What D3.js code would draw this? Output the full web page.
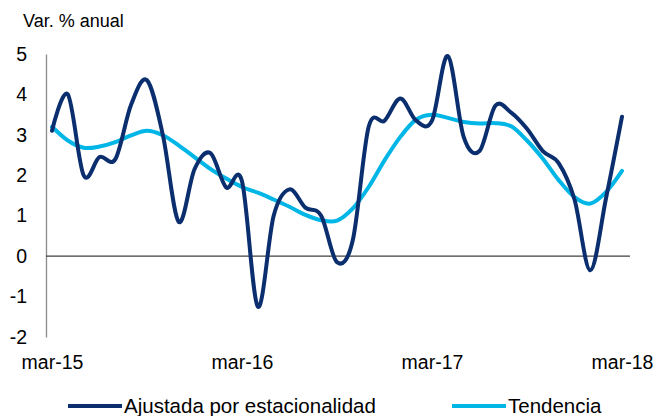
<!DOCTYPE html>
<head>
   <meta charset="utf-8">
   <script src="https://d3js.org/d3.v7.min.js"></script>
   <style>
   body{ margin: 0; background: #ffffff; }
   text{
      font-family: "Liberation Sans", Arial, sans-serif;
      fill: #000000;
   }
   .tick text{ font-size: 19.5px; }
   text.title{ font-size: 18px; }
   text.legendText{ font-size: 20.5px; }
   path.line{ fill: none; stroke-width: 4px; stroke-linejoin: round; stroke-linecap: round; }
   </style>
</head>

<body>
   <script>
const months = ['mar-15','abr-15','may-15','jun-15','jul-15','ago-15','sep-15','oct-15','nov-15','dic-15','ene-16','feb-16',
   'mar-16','abr-16','may-16','jun-16','jul-16','ago-16','sep-16','oct-16','nov-16','dic-16','ene-17','feb-17',
   'mar-17','abr-17','may-17','jun-17','jul-17','ago-17','sep-17','oct-17','nov-17','dic-17','ene-18','feb-18','mar-18'];

const ajustada = [3.1, 4.0, 2.0, 2.45, 2.4, 3.75, 4.35, 3.0, 0.85, 2.15, 2.55, 1.7, 1.85,
   -1.25, 1.0, 1.65, 1.2, 1.0, -0.15, 0.4, 3.2, 3.35, 3.9, 3.35, 3.35,
   4.95, 2.95, 2.6, 3.72, 3.55, 3.15, 2.6, 2.3, 1.4, -0.35, 1.45, 3.45];

const tendencia = [3.2, 2.86, 2.68, 2.71, 2.82, 2.99, 3.1, 2.99, 2.74, 2.45, 2.16, 1.92, 1.71,
   1.57, 1.4, 1.22, 1.02, 0.89, 0.88, 1.18, 1.71, 2.37, 2.95, 3.38, 3.5,
   3.42, 3.32, 3.28, 3.29, 3.21, 2.86, 2.41, 1.88, 1.46, 1.3, 1.59, 2.11];

const yTicks = [-2, -1, 0, 1, 2, 3, 4, 5];
const xTickLabels = ['mar-15', 'mar-16', 'mar-17', 'mar-18'];

const series = [
   {name: 'Ajustada por estacionalidad', values: ajustada, colour: '#0b2f6e'},
   {name: 'Tendencia', values: tendencia, colour: '#00b6e6'}
];

const width = 658, height = 416;

const svg = d3.select('body').append('svg')
   .attr('width', width)
   .attr('height', height);

const x = d3.scaleLinear()
   .domain([0, months.length - 1])
   .range([52, 622]);

const y = d3.scaleLinear()
   .domain([-2, 5])
   .range([337, 54]);

svg.append('text')
   .attr('class', 'title')
   .attr('x', 23)
   .attr('y', 27)
   .text('Var. % anual');

// y axis
const yAxis = svg.append('g')
   .attr('transform', 'translate(46,0)')
   .call(d3.axisLeft(y).tickValues(yTicks).tickSize(0).tickPadding(19).tickFormat(d => String(d)));
yAxis.select('.domain').attr('stroke', '#8c8c8c').attr('stroke-width', 1.3);

// zero line
svg.append('line')
   .attr('x1', 46).attr('x2', 630)
   .attr('y1', y(0)).attr('y2', y(0))
   .attr('stroke', '#404040')
   .attr('stroke-width', 1.2);

// x axis
const xAxis = svg.append('g')
   .attr('transform', 'translate(0,349)')
   .call(d3.axisBottom(x)
      .tickValues(xTickLabels.map(m => months.indexOf(m)))
      .tickFormat(i => months[i])
      .tickSize(0)
      .tickPadding(6));
xAxis.select('.domain').remove();

const line = d3.line()
   .x((d, i) => x(i))
   .y(d => y(d))
   .curve(d3.curveCardinal.tension(0));

svg.selectAll('path.line')
   .data(series.slice().reverse())
   .enter()
   .append('path')
   .attr('class', 'line')
   .attr('d', d => line(d.values))
   .attr('stroke', d => d.colour);

// legend
const legendX = [68, 452];
const legend = svg.selectAll('g.legend')
   .data(series)
   .enter()
   .append('g')
   .attr('class', 'legend')
   .attr('transform', (d, i) => `translate(${legendX[i]},406)`);

legend.append('line')
   .attr('x1', 0).attr('x2', 54)
   .attr('stroke', d => d.colour)
   .attr('stroke-width', 4);

legend.append('text')
   .attr('class', 'legendText')
   .attr('x', 56)
   .attr('dy', '0.35em')
   .text(d => d.name);
   </script>
</body>
